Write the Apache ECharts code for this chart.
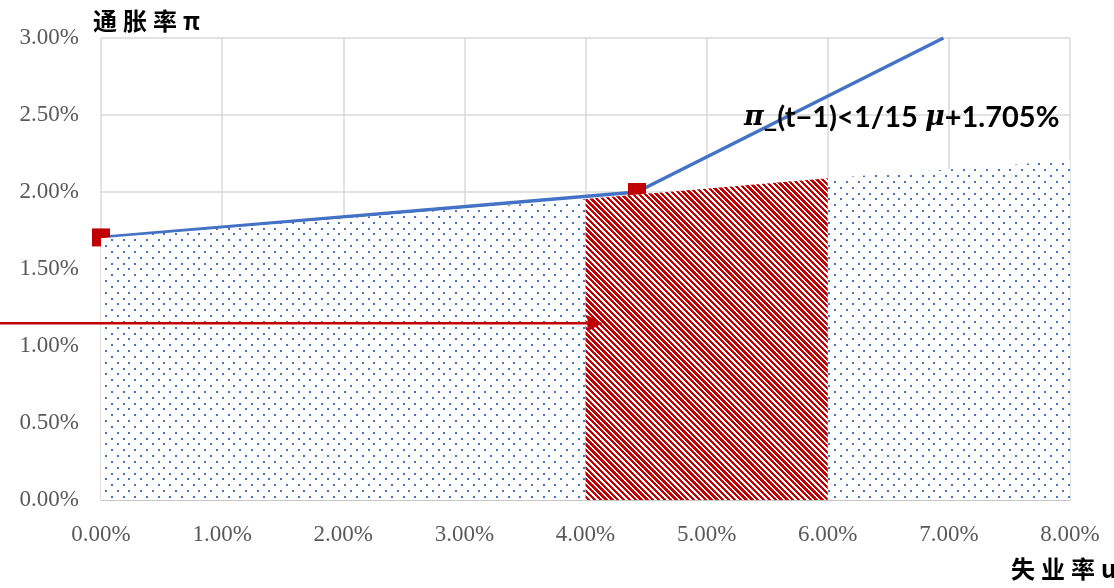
<!DOCTYPE html>
<html>
<head>
<meta charset="utf-8">
<script src="https://cdn.jsdelivr.net/npm/echarts@6/dist/echarts.min.js"></script>
<style>
  html, body { margin: 0; padding: 0; background: #fff; }
  #chart { width: 1114px; height: 588px; }
</style>
</head>
<body>
<div id="chart"></div>
<script>
// Unemployment rate u (%) vs inflation π (%)

// Phillips-type kinked line
const lineU = [0, 4.425, 6.955];
const lineP = [1.705, 2.0, 3.0];

// Kink markers
const markerU = [0, 4.425];
const markerP = [1.705, 2.0];

// Dotted region under the boundary
const areaU = [0, 4, 6, 8];
const areaP = [1.70, 1.955, 2.09, 2.205];

// Hatched band between 4% and 6%
const hatchU = [4, 6];
const hatchP = [1.955, 2.09];

// Horizontal arrow (starts left of the plot)
const arrowU = [-0.834, 4.14];
const arrowP = [1.147, 1.147];

function zip(a, b) { return a.map((v, i) => [v, b[i]]); }

// Staggered dot fill on white
function dotPattern() {
  const c = document.createElement('canvas');
  c.width = 35; c.height = 35;
  const g = c.getContext('2d');
  g.fillStyle = '#ffffff';
  g.fillRect(0, 0, 35, 35);
  g.fillStyle = '#4472C4';
  for (let i = 0; i < 6; i++) {
    for (let j = 0; j < 6; j++) {
      if ((i + j) % 2 === 0) {
        g.fillRect(Math.round(i * 35 / 6), Math.round(j * 35 / 6), 2, 2);
      }
    }
  }
  return c;
}

// Downward diagonal stripes on white
function hatchPattern() {
  const c = document.createElement('canvas');
  c.width = 35; c.height = 35;
  const g = c.getContext('2d');
  g.fillStyle = '#ffffff';
  g.fillRect(0, 0, 35, 35);
  g.fillStyle = '#C00000';
  const p = 35 / 6;
  for (let y = 0; y < 35; y++) {
    for (let x = 0; x < 35; x++) {
      const d = ((x - y) % p + p) % p;
      if (d < p * 0.56) g.fillRect(x, y, 1, 1);
    }
  }
  return c;
}

const chart = echarts.init(document.getElementById('chart'), null, { renderer: 'canvas' });

const labelFont = {
  color: '#595959',
  fontFamily: '"Liberation Serif", "DejaVu Serif", serif',
  fontSize: 23
};

const option = {
  animation: false,
  backgroundColor: '#ffffff',
  grid: { left: 101, right: 44, top: 38, bottom: 88, containLabel: false },
  xAxis: {
    type: 'value',
    min: 0, max: 8, interval: 1,
    axisLine: { show: true, lineStyle: { color: '#BFBFBF', width: 1.5 } },
    axisTick: { show: false },
    axisLabel: Object.assign({ margin: 23, formatter: v => v.toFixed(2) + '%' }, labelFont),
    splitLine: { show: true, lineStyle: { color: '#D9D9D9', width: 1.5 } }
  },
  yAxis: {
    type: 'value',
    min: 0, max: 3, interval: 0.5,
    axisLine: { show: false },
    axisTick: { show: false },
    axisLabel: Object.assign({ margin: 22, formatter: v => v.toFixed(2) + '%' }, labelFont),
    splitLine: { show: true, lineStyle: { color: '#D9D9D9', width: 1.5 } }
  },
  series: [
    {
      name: 'boundary',
      type: 'line',
      z: 1,
      data: zip(lineU, lineP),
      showSymbol: false,
      lineStyle: { color: '#4472C4', width: 3.5 },
      silent: true
    },
    {
      name: 'kinks',
      type: 'scatter',
      z: 2,
      data: zip(markerU, markerP),
      symbol: 'rect',
      symbolSize: 18,
      itemStyle: { color: '#C00000', opacity: 1 },
      silent: true
    },
    {
      name: 'dotted',
      type: 'line',
      z: 3,
      data: zip(areaU, areaP),
      showSymbol: false,
      lineStyle: { width: 0 },
      areaStyle: { color: { image: dotPattern(), repeat: 'repeat' }, opacity: 1 },
      silent: true
    },
    {
      name: 'hatched',
      type: 'line',
      z: 4,
      data: zip(hatchU, hatchP),
      showSymbol: false,
      lineStyle: { width: 0 },
      areaStyle: { color: { image: hatchPattern(), repeat: 'repeat' }, opacity: 1 },
      silent: true
    }
  ],
  graphic: [
    {
      id: 'yTitle',
      type: 'text',
      left: 93, top: 9,
      z: 10,
      style: {
        text: '通\u2005胀\u2005率\u2005π',
        fill: '#000000',
        font: 'bold 24px "Noto Sans CJK SC", sans-serif'
      }
    },
    {
      id: 'xTitle',
      type: 'text',
      left: 1011, top: 557,
      z: 10,
      style: {
        text: '失\u2005业\u2005率\u2005u',
        fill: '#000000',
        font: 'bold 24px "Noto Sans CJK SC", sans-serif'
      }
    },
    {
      id: 'rule',
      type: 'text',
      left: 744, top: 103,
      z: 10,
      style: {
        text: '{i|π}_(t−1)<1/15 {i|μ}+1.705%',
        fill: '#000000',
        font: 'bold 29px Lato, sans-serif',
        rich: {
          i: {
            fontFamily: '"DejaVu Serif", serif',
            fontStyle: 'italic',
            fontWeight: 'bold',
            fontSize: 27,
            fill: '#000000'
          }
        }
      }
    }
  ]
};

chart.setOption(option);

// Arrow: positions come from the grid's own data-to-pixel mapping
const a0 = chart.convertToPixel({ gridIndex: 0 }, [arrowU[0], arrowP[0]]);
const a1 = chart.convertToPixel({ gridIndex: 0 }, [arrowU[1], arrowP[1]]);
const headLen = 15, headHalf = 8;
chart.setOption({
  graphic: [
    {
      id: 'arrowShaft',
      type: 'line',
      z: 20,
      silent: true,
      shape: { x1: a0[0], y1: a0[1], x2: a1[0] - headLen + 2, y2: a1[1] },
      style: { stroke: '#C00000', lineWidth: 2.5 }
    },
    {
      id: 'arrowHead',
      type: 'polygon',
      z: 20,
      silent: true,
      shape: { points: [[a1[0], a1[1]], [a1[0] - headLen, a1[1] - headHalf], [a1[0] - headLen, a1[1] + headHalf]] },
      style: { fill: '#C00000' }
    }
  ]
});
</script>
</body>
</html>
